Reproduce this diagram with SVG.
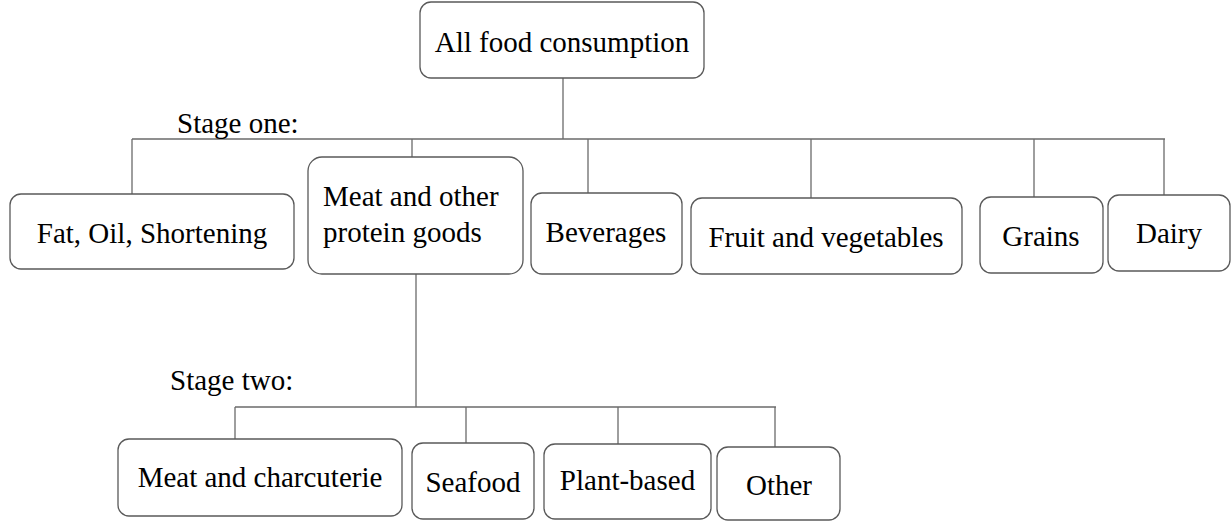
<svg xmlns="http://www.w3.org/2000/svg" width="1232" height="521" viewBox="0 0 1232 521">
<style>
.box{fill:#fff;stroke:#595959;stroke-width:1.3}
.ln{stroke:#6b6b6b;stroke-width:1.3;fill:none}
text{font-family:'Liberation Serif',Tinos,'Times New Roman',Times,'Noto Serif','DejaVu Serif',serif;font-size:29px;fill:#000}
.c{text-anchor:middle}
</style>
<rect width="1232" height="521" fill="#fff"/>
<g id="connectors">
<path class="ln" d="M563 78V139M132 139H1165M132 139V194M412 139V157M588 139V193M811 139V198M1034 139V197M1164 139V195"/>
<path class="ln" d="M416 274V407M235 407H776M235 407V439M466 407V443M618 407V444M775 407V447"/>
</g>
<g id="label-stage-one"><text x="177" y="133" font-family="Liberation Serif, serif">Stage one:</text></g>
<g id="label-stage-two"><text x="170" y="390" font-family="Liberation Serif, serif">Stage two:</text></g>
<g id="node-all"><rect class="box" x="420" y="2" width="284" height="76" rx="11"/><text class="c" x="562" y="52">All food consumption</text></g>
<g id="node-fat"><rect class="box" x="10" y="194" width="284" height="75" rx="11"/><text class="c" x="152" y="243">Fat, Oil, Shortening</text></g>
<g id="node-meat"><rect class="box" x="308" y="157" width="215" height="117" rx="14"/><text x="323" y="206">Meat and other</text><text x="323" y="242">protein goods</text></g>
<g id="node-beverages"><rect class="box" x="531" y="193" width="151" height="81" rx="11"/><text class="c" x="606" y="242">Beverages</text></g>
<g id="node-fruit"><rect class="box" x="691" y="198" width="271" height="76" rx="11"/><text class="c" x="826" y="247">Fruit and vegetables</text></g>
<g id="node-grains"><rect class="box" x="980" y="197" width="123" height="76" rx="11"/><text class="c" x="1041" y="246">Grains</text></g>
<g id="node-dairy"><rect class="box" x="1108" y="195" width="122" height="76" rx="11"/><text class="c" x="1169" y="243">Dairy</text></g>
<g id="node-meat-charcuterie"><rect class="box" x="118" y="439" width="284" height="77" rx="11"/><text class="c" x="260" y="487">Meat and charcuterie</text></g>
<g id="node-seafood"><rect class="box" x="412" y="443" width="122" height="76" rx="11"/><text class="c" x="473" y="492">Seafood</text></g>
<g id="node-plant"><rect class="box" x="544" y="444" width="167" height="75" rx="11"/><text class="c" x="627.5" y="490">Plant-based</text></g>
<g id="node-other"><rect class="box" x="717" y="447" width="123" height="73" rx="11"/><text class="c" x="779" y="495">Other</text></g>
</svg>
